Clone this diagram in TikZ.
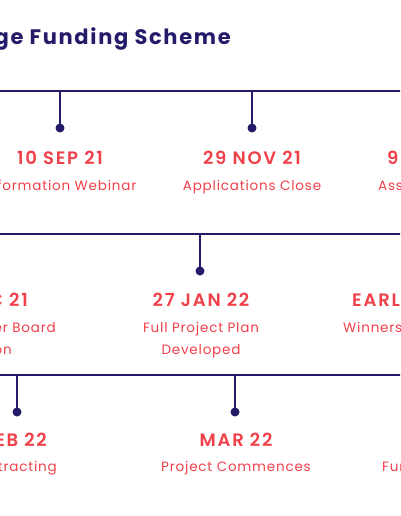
\documentclass[tikz,border=0pt]{standalone}
\usepackage{fontspec}
\setmainfont{Poppins}
\newfontfamily\titlefont{Poppins Bold}[LetterSpace=8]
\newfontfamily\datefont{Poppins SemiBold}[LetterSpace=10]
\newfontfamily\descfont{Poppins}[LetterSpace=6]
\definecolor{navy}{HTML}{251C69}
\definecolor{tred}{HTML}{F0404A}
\tikzset{
  tl/.style={line width=2.8pt, draw=navy},
  tdot/.style={circle, fill=navy, inner sep=0pt, minimum size=9pt},
  tdate/.style={text=tred, font=\datefont\fontsize{18}{21}\selectfont, inner sep=0pt, anchor=base},
  tdesc/.style={text=tred, font=\descfont\fontsize{13.5}{22}\selectfont, inner sep=0pt, anchor=base},
  ttitle/.style={text=navy, font=\titlefont\fontsize{21}{24}\selectfont, inner sep=0pt}
}
\begin{document}
\begin{tikzpicture}[x=1pt,y=-1pt]
\useasboundingbox (0,0) rectangle (400,516);
\clip (0,0) rectangle (400,516);
% title
\node[ttitle, anchor=base east] (title) at (231,45) {Challenge Funding Scheme};
% row 1
\coordinate (L1a) at (-5,91); \coordinate (L1b) at (405,91);
\draw[tl] (L1a) -- (L1b);
\coordinate (t11) at (60,91); \node[tdot] (d11) at (60,128) {};
\coordinate (t12) at (252,91); \node[tdot] (d12) at (252,128) {};
\draw[tl] (t11) -- (d11.center);
\draw[tl] (t12) -- (d12.center);
\node[tdate] (a11) at (60,164) {10 SEP 21};
\node[tdesc] (b11) at (60,190) {Information Webinar};
\node[tdate] (a12) at (252,164) {29 NOV 21};
\node[tdesc] (b12) at (252,190) {Applications Close};
\node[tdate, anchor=base west] (a13) at (387,164) {9/10 DEC 21};
\node[tdesc, anchor=base west] (b13) at (378,190) {Assessment Panel};
% row 2
\coordinate (L2a) at (-5,234); \coordinate (L2b) at (405,234);
\draw[tl] (L2a) -- (L2b);
\coordinate (t21) at (200,234); \node[tdot] (d21) at (200,271) {};
\draw[tl] (t21) -- (d21.center);
\node[tdate, anchor=base east] (a20) at (28,306) {15 DEC 21};
\node[tdesc, anchor=base east] (b20) at (56,332) {Funder Board};
\node[tdesc, anchor=base east] (c20) at (12,354) {Decision};
\node[tdate] (a21) at (201,306) {27 JAN 22};
\node[tdesc] (b21) at (201,332) {Full Project Plan};
\node[tdesc] (c21) at (201,354) {Developed};
\node[tdate, anchor=base west] (a22) at (352,306) {EARLY FEB 22};
\node[tdesc, anchor=base west] (b22) at (343,332) {Winners Announced};
% row 3
\coordinate (L3a) at (-5,375); \coordinate (L3b) at (405,375);
\draw[tl] (L3a) -- (L3b);
\coordinate (t31) at (17,375); \node[tdot] (d31) at (17,412) {};
\coordinate (t32) at (235,375); \node[tdot] (d32) at (235,412) {};
\draw[tl] (t31) -- (d31.center);
\draw[tl] (t32) -- (d32.center);
\node[tdate, anchor=base east] (a31) at (47,446) {28 FEB 22};
\node[tdesc, anchor=base east] (b31) at (57,471) {Contracting};
\node[tdate] (a32) at (236,446) {MAR 22};
\node[tdesc] (b32) at (236,471) {Project Commences};
\node[tdesc, anchor=base west] (b33) at (382,471) {Funding Released};
\end{tikzpicture}
\end{document}
